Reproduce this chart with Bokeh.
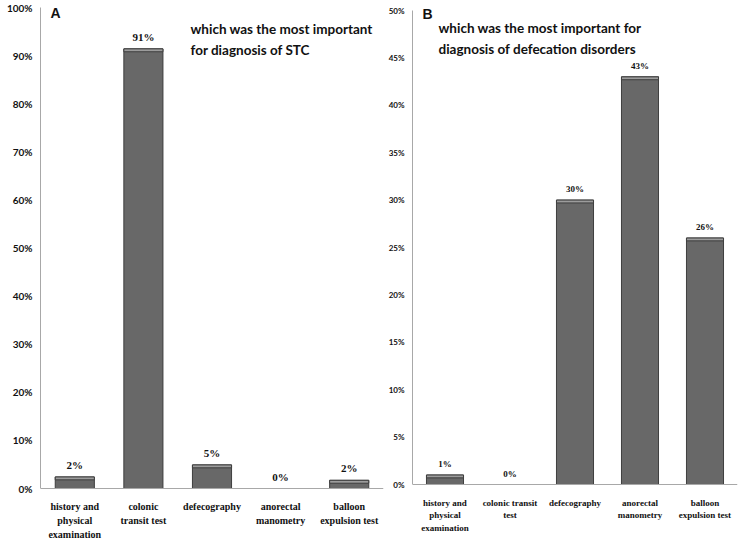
from bokeh.plotting import figure
from bokeh.layouts import row
from bokeh.models import (FactorRange, Range1d, FixedTicker, Label, LabelSet, Span,
                          ColumnDataSource, PrintfTickFormatter)
from bokeh.embed import file_html
from bokeh.resources import INLINE

# ---- data ----
cats_a = ["history and\nphysical\nexamination", "colonic\ntransit test",
          "defecography", "anorectal\nmanometry", "balloon\nexpulsion test"]
vals_a = [2.4, 91.4, 4.9, 0.0, 1.7]
text_a = ["2%", "91%", "5%", "0%", "2%"]
ticks_a = [0, 10, 20, 30, 40, 50, 60, 70, 80, 90, 100]
title_a = "which was the most important\nfor diagnosis of STC"

cats_b = ["history and\nphysical\nexamination", "colonic transit\ntest",
          "defecography", "anorectal\nmanometry", "balloon\nexpulsion test"]
vals_b = [1.0, 0.0, 30.0, 43.0, 26.0]
text_b = ["1%", "0%", "30%", "43%", "26%"]
ticks_b = [0, 5, 10, 15, 20, 25, 30, 35, 40, 45, 50]
title_b = "which was the most  important for\ndiagnosis of defecation disorders"

FONT = "Lato"
BAR_FILL = "#686868"
BAR_LINE = "#3e3e3e"
CAP_FILL = "#9c9c9c"
AXIS_COL = "#a8a8a8"
TXT = "#111111"
H = 539


def make_panel(cats, vals, texts, ticks, ymax, title, letter, width, bl, br,
               top_px, base_px, ytick_size, xtick_size, first_px, step_px, val_size,
               title_x, title_top, letter_x, letter_top):
    # the frame fills the whole height; the axis is bounded to [0, ymax]
    ppu = (base_px - top_px) / ymax
    y0 = -(H - base_px) / ppu
    y1 = ymax + top_px / ppu
    p = figure(width=width, height=H, x_range=FactorRange(factors=cats, range_padding=0),
               y_range=Range1d(y0, y1), output_backend="svg", toolbar_location=None,
               min_border_left=bl, min_border_right=br, min_border_top=0, min_border_bottom=0)
    cap = ymax * 0.006
    src = ColumnDataSource(dict(x=cats, top=vals, label=texts,
                                cap_bottom=[max(v - cap, 0) if v > 0 else 0 for v in vals]))
    p.vbar(x="x", top="top", width=0.57, source=src, fill_color=BAR_FILL,
           line_color=BAR_LINE, line_width=1)
    p.vbar(x="x", top="top", bottom="cap_bottom", width=0.57, source=src,
           fill_color=CAP_FILL, line_color=BAR_LINE, line_width=1)
    p.add_layout(LabelSet(x="x", y="top", text="label", source=src, y_offset=6,
                          text_align="center", text_baseline="bottom",
                          text_font=FONT, text_font_style="bold",
                          text_font_size=val_size, text_color=TXT))
    # category labels under the baseline, one centred line at a time
    split = [c.split("\n") for c in cats]
    for i in range(3):
        lines = [s[i] if i < len(s) else "" for s in split]
        csrc = ColumnDataSource(dict(x=cats, y=[0] * len(cats), label=lines))
        p.add_layout(LabelSet(x="x", y="y", text="label", source=csrc,
                              y_offset=-(first_px + i * step_px),
                              text_align="center", text_baseline="middle",
                              text_font=FONT, text_font_style="bold",
                              text_font_size=xtick_size, text_color=TXT))
    p.add_layout(Span(location=0, dimension="width", line_color=AXIS_COL, line_width=1))

    p.xgrid.visible = False
    p.ygrid.visible = False
    p.xaxis.visible = False
    p.outline_line_color = None
    p.background_fill_color = "white"
    p.border_fill_color = "white"

    p.yaxis.bounds = (0, ymax)
    p.yaxis.ticker = FixedTicker(ticks=ticks)
    p.yaxis.formatter = PrintfTickFormatter(format="%d%%")
    p.yaxis.major_tick_out = 0
    p.yaxis.major_tick_in = 0
    p.yaxis.minor_tick_line_color = None
    p.yaxis.axis_line_color = AXIS_COL
    p.yaxis.major_label_text_font = FONT
    p.yaxis.major_label_text_font_style = "bold"
    p.yaxis.major_label_text_font_size = ytick_size
    p.yaxis.major_label_text_color = TXT
    p.yaxis.major_label_standoff = 8

    p.add_layout(Label(x=title_x, y=H - title_top, x_units="screen", y_units="screen",
                       text=title, text_font=FONT, text_font_style="bold",
                       text_font_size="13.5px", text_line_height=1.35,
                       text_baseline="top", text_color=TXT))
    p.add_layout(Label(x=letter_x, y=H - letter_top, x_units="screen", y_units="screen",
                       text=letter, text_font="Liberation Sans", text_font_style="bold",
                       text_font_size="14px", text_baseline="top", text_color=TXT))
    return p


pa = make_panel(cats_a, vals_a, text_a, ticks_a, 100, title_a, "A", 385, 40, 2,
                7, 488, "10px", "10px", 18, 14, "11px", 150, 20, 10, 4)
pb = make_panel(cats_b, vals_b, text_b, ticks_b, 50, title_b, "B", 355, 27, 3,
                10, 484, "8px", "9px", 18, 12.5, "9px", 26, 19, 10, 5)

layout = row(pa, pb, spacing=0)
open("out.html", "w").write(file_html(layout, INLINE))
